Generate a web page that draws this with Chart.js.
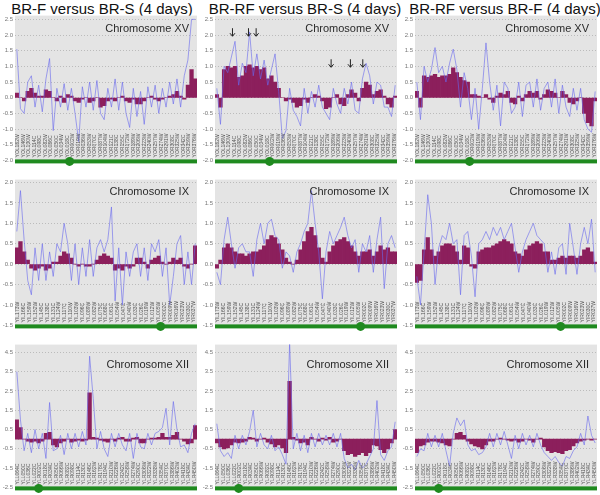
<!DOCTYPE html>
<html lang="en">
<head>
    <meta charset="UTF-8">
    <title>Chromosome XV / IX / XII profiles</title>
    <script src="https://cdn.jsdelivr.net/npm/chart.js"></script>
    <style>
        body {
            margin: 0;
            width: 600px;
            height: 495px;
            position: relative;
            overflow: hidden;
            background: #fff;
            font-family: 'Liberation Sans', Arial, sans-serif;
        }
        .title {
            position: absolute;
            top: 1px;
            width: 200px;
            text-align: center;
            white-space: nowrap;
            font-size: 15px;
            line-height: 16px;
            color: #111;
        }
        canvas { position: absolute; }
    </style>
</head>
<body>
    <div class="title" style="left:2px">BR-F versus BR-S (4 days)</div>
    <div class="title" style="left:205px">BR-RF versus BR-S (4 days)</div>
    <div class="title" style="left:405px">BR-RF versus BR-F (4 days)</div>

    <script>
        // column titles / chromosome names
        const comparisons = ['BR-F versus BR-S (4 days)', 'BR-RF versus BR-S (4 days)', 'BR-RF versus BR-F (4 days)'];
        const chromNames = ['Chromosome XV', 'Chromosome IX', 'Chromosome XII'];

        // y axis ranges and tick values per chromosome row
        const yMin = [-2.0, -1.5, -2.5];
        const yMax = [2.62, 2.07, 4.9];
        const ticksXV = [-2.0, -1.5, -1.0, -0.5, 0.0, 0.5, 1.0, 1.5, 2.0, 2.5];
        const ticksIX = [-1.5, -1.0, -0.5, 0.0, 0.5, 1.0, 1.5, 2.0];
        const ticksXII = [-2.5, -1.5, -0.5, 0.5, 1.5, 2.5, 3.5, 4.5];

        // centromere, as fraction of chromosome length
        const centromere = [0.30, 0.80, 0.13];

        // ORF labels along each chromosome
        const genesXV = ['YOL162W','YOL146W','YOL130W','YOL114C','YOL098C','YOL082W','YOL066C','YOL050C','YOL034W','YOL018C',
            'YOR002W','YOR019W','YOR036W','YOR053W','YOR070C','YOR087W','YOR104W','YOR121C','YOR138C','YOR155C','YOR172W',
            'YOR189W','YOR206W','YOR223W','YOR240W','YOR257W','YOR274W','YOR291W','YOR308C','YOR325W','YOR342C','YOR359W','YOR376W'];
        const genesIX = ['YIL173W','YIL166C','YIL159W','YIL152W','YIL145C','YIL138C','YIL131C','YIL124W','YIL117C','YIL110W',
            'YIL103W','YIL096C','YIL089W','YIL082W','YIL075C','YIL068C','YIL061C','YIL054W','YIL047C','YIL040W','YIL033C',
            'YIL026C','YIL019W','YIL012W','YIL005W','YIR002C','YIR009W','YIR016W','YIR023W','YIR030C','YIR037W'];
        const genesXII = ['YLL064C','YLL050C','YLL036C','YLL022C','YLR002C','YLR018C','YLR034C','YLR050C','YLR066W','YLR082C',
            'YLR098C','YLR114C','YLR130C','YLR146C','YLR162W','YLR178C','YLR194C','YLR210W','YLR226W','YLR242C','YLR258W',
            'YLR274W','YLR290C','YLR306W','YLR322W','YLR338W','YLR354C','YLR370C','YLR386W','YLR402W','YLR418C','YLR434C','YLR450W'];

        // log2 ratios: moving average (bars) and raw probe values (line)
        const xvFS_avg = [0.15,0.0,-0.1,0.2,0.3,0.15,0.05,0.05,0.25,0.2, 0.0,-0.1,0.05,-0.15,0.1,0.05,-0.1,-0.15,-0.05,0.0,
            -0.15,-0.1,0.0,-0.3,-0.25,-0.1,-0.05,-0.1,0.0,0.05, -0.1,-0.15,-0.05,-0.2,-0.2,-0.1,0.0,0.05,-0.05,-0.1,
            -0.05,0.0,0.05,0.1,0.2,0.05,-0.05,0.4,0.9,0.6];
        const xvFS_raw = [1.55,-0.35,-0.5,0.5,0.7,-0.3,0.4,-0.45,0.6,1.25, -1.05,0.3,-0.3,0.45,-0.4,0.3,-0.5,-1.4,0.35,-0.3,
            0.5,-0.4,0.55,-0.5,-0.7,0.3,-0.3,0.6,-0.4,0.5, -0.5,-0.95,0.3,-0.6,0.2,-0.85,0.35,-0.3,0.4,-0.5,
            0.3,-0.3,0.5,-0.2,0.6,-0.3,0.7,1.2,2.5,2.5];
        const xvRFS_avg = [0.1,-0.3,0.9,1.0,0.95,1.0,0.65,0.7,1.0,1.05, 0.95,1.0,0.9,0.95,0.6,0.7,0.5,0.3,0.0,-0.1,
            -0.05,-0.15,-0.3,-0.25,-0.05,-0.15,0.0,0.1,0.05,-0.1, -0.35,-0.3,0.0,0.1,-0.2,-0.25,0.1,0.25,0.15,-0.1,
            0.3,0.5,0.4,0.1,0.2,0.25,0.05,-0.2,-0.3,0.05];
        const xvRFS_raw = [0.3,-0.85,1.0,0.8,1.3,1.8,0.4,1.1,0.8,2.1, 0.7,1.4,0.6,1.2,0.4,0.9,1.4,0.2,-1.3,-1.05,
            0.3,-0.4,-0.6,-0.9,0.3,-0.5,0.2,-0.3,0.4,-0.3, -0.5,-0.7,0.3,-0.2,-0.5,0.3,-0.2,0.5,-0.4,-0.5,
            0.6,1.1,0.7,-0.2,0.5,0.4,-0.3,-0.3,-0.6,0.4];
        const xvRFF_avg = [0.2,-0.3,0.7,0.65,0.7,0.75,0.65,0.7,0.7,0.75, 0.95,0.8,0.65,0.55,0.5,0.1,0.1,0.05,0.0,0.1,
            -0.05,-0.15,0.05,0.15,0.1,0.2,-0.15,-0.2,0.05,-0.1, 0.1,0.2,0.15,0.2,-0.05,0.1,0.25,0.2,0.15,0.0,
            0.2,0.1,-0.15,-0.2,-0.1,0.0,-0.5,-0.8,-0.9,-0.1];
        const xvRFF_raw = [0.5,-0.7,1.0,0.5,0.9,1.6,0.8,1.0,0.5,1.1, 1.55,0.9,-0.3,0.8,0.3,-0.7,0.3,-1.0,0.3,1.75,
            0.5,-0.4,0.4,-0.9,0.5,0.3,-0.5,-0.3,0.5,-0.6, 0.4,0.5,-0.3,0.6,-0.4,0.3,0.5,-0.3,0.6,-0.5,
            0.4,-0.3,-0.6,0.3,-0.4,0.3,-0.7,-1.0,-1.1,0.2];

        const ixFS_avg = [0.4,0.55,0.3,0.1,-0.1,-0.15,-0.1,-0.05,-0.15,-0.1, 0.05,0.05,0.2,0.3,0.25,0.15,0.0,-0.05,0.0,-0.05,
            -0.05,0.0,0.1,0.2,0.25,0.2,0.15,-0.15,-0.1,-0.15, -0.05,-0.1,-0.05,0.15,0.15,0.05,-0.1,0.1,0.15,0.2,
            0.05,0.0,0.05,0.15,0.1,0.15,-0.05,-0.1,0.0,0.45];
        const ixFS_raw = [0.8,1.8,0.6,-0.4,-0.75,0.4,-0.4,0.5,-0.4,0.3, -0.3,0.5,0.3,1.0,0.5,-0.4,0.5,-0.5,0.4,-0.3,
            0.6,-0.3,0.4,0.6,0.3,0.6,1.4,-0.9,0.4,-1.0, 0.3,-0.3,0.3,0.5,-0.3,0.4,-0.4,0.5,0.3,0.6,
            -0.3,0.4,-1.0,-0.3,0.5,0.7,-0.5,0.3,-0.5,0.5];
        const ixRFS_avg = [-0.1,0.1,0.4,0.5,0.4,0.3,0.25,0.25,0.2,0.25, 0.3,0.3,0.35,0.45,0.6,0.7,0.65,0.5,0.35,0.15,
            0.05,0.0,0.1,0.35,0.55,0.8,0.9,0.7,0.4,0.15, 0.05,0.3,0.45,0.55,0.6,0.65,0.55,0.45,0.3,0.2,
            0.3,0.3,0.35,0.2,0.3,0.45,0.35,0.4,0.3,0.3];
        const ixRFS_raw = [-0.2,-0.5,0.6,1.15,0.5,-0.1,0.4,0.5,0.3,0.3, -0.3,0.6,1.0,0.5,1.0,1.1,0.7,0.6,-0.1,0.3,
            0.2,-0.2,0.3,0.5,0.8,1.0,1.8,1.0,0.3,-0.85, 0.3,0.8,0.5,0.7,0.9,1.15,0.7,0.4,0.6,-0.2,
            0.5,0.3,0.7,-0.2,0.6,1.15,-0.6,0.5,0.7,0.4];
        const ixRFF_avg = [-0.45,-0.4,0.35,0.65,0.35,0.2,0.3,0.45,0.5,0.5, 0.45,0.3,0.1,0.45,0.4,-0.05,-0.1,0.3,0.35,0.4,
            0.4,0.45,0.5,0.55,0.6,0.55,0.5,0.3,0.25,0.2, 0.35,0.45,0.5,0.55,0.5,0.3,0.3,0.1,0.1,0.15,
            0.2,0.15,0.2,0.2,0.15,0.2,0.35,0.4,0.3,0.05];
        const ixRFF_raw = [-0.3,-1.0,0.3,1.7,1.0,-0.5,0.4,0.7,0.6,1.0, 0.5,0.6,-0.75,0.7,0.8,0.2,-0.8,0.5,0.6,0.8,
            0.6,0.9,0.7,0.9,0.6,0.8,1.0,0.4,-0.2,0.3, 0.6,0.8,1.0,0.7,0.6,0.5,-0.2,0.3,-0.25,0.4,
            0.5,-0.25,1.0,0.4,-0.25,0.5,0.9,0.5,1.1,-0.2];

        const xiiFS_avg = [1.0,0.6,0.0,-0.1,-0.15,-0.1,-0.2,-0.1,0.3,0.35, -0.3,-0.4,-0.2,-0.1,0.0,-0.15,-0.1,-0.05,-0.1,-0.05,
            2.4,0.1,0.05,-0.05,-0.1,-0.15,0.0,-0.1,0.05,0.1, -0.1,-0.1,0.05,0.1,-0.2,-0.2,0.0,0.05,0.05,0.1,
            0.3,0.1,0.1,0.2,0.35,0.0,-0.1,-0.25,-0.2,0.7];
        const xiiFS_raw = [3.5,1.0,-0.6,0.3,-0.7,0.5,-0.5,0.3,-1.0,1.9, -0.6,-0.5,0.2,-0.8,0.3,-0.5,0.3,-0.4,0.4,-0.3,
            4.3,2.1,-0.5,0.4,-0.5,-0.9,0.3,-0.4,0.3,-0.3, -0.6,0.3,-1.0,0.3,-0.4,-0.5,0.3,-0.3,0.3,0.4,
            0.6,1.6,-0.3,1.95,0.5,-0.4,-0.3,-0.7,0.3,0.8];
        const xiiRFS_avg = [-0.2,-0.4,-0.5,-0.45,-0.3,-0.15,-0.2,-0.15,-0.1,0.1, 0.05,-0.1,0.0,0.05,-0.15,-0.25,-0.4,-0.3,-0.45,-0.7,
            3.0,0.1,-0.05,-0.2,-0.15,-0.3,0.1,0.0,-0.1,0.05, -0.05,0.1,-0.15,-0.1,0.0,-0.6,-0.8,-0.75,-0.9,-0.8,
            -0.7,-0.85,-0.7,-0.3,-0.35,-0.55,-0.7,-0.5,-0.2,0.5];
        const xiiRFS_raw = [0.8,-0.6,-0.9,-0.7,-1.0,0.2,-0.5,0.2,-0.3,0.4, 1.5,-0.4,0.3,-0.3,-0.5,0.2,-0.6,-0.4,-0.8,-1.3,
            5.0,-0.5,0.3,-0.6,0.2,-0.7,0.3,-0.4,0.3,-0.3, 0.2,-0.3,0.3,-0.4,0.3,-1.0,-1.5,-1.3,-1.6,-1.1,
            -1.5,-1.3,-0.9,-0.5,2.0,-0.8,-1.1,-0.6,-0.4,0.9];
        const xiiRFF_avg = [-0.7,-0.35,-0.3,-0.15,-0.1,-0.1,-0.15,-0.2,-0.3,-0.35, 0.0,0.3,0.35,0.2,-0.1,-0.25,-0.35,-0.4,-0.5,-0.3,
            -0.1,-0.1,0.0,0.05,0.0,-0.05,-0.1,-0.05,-0.15,-0.1, 0.0,-0.05,-0.15,0.0,0.05,-0.4,-0.6,-0.7,-0.65,-0.7,
            -0.75,-0.6,-0.55,-0.35,-0.2,-0.1,-0.05,0.0,-0.05,0.0];
        const xiiRFF_raw = [-0.9,-0.5,-0.6,0.3,-0.4,0.2,-0.4,0.3,-0.6,-1.4, 0.3,1.1,0.7,1.0,-0.3,-0.6,-0.5,-0.8,-0.7,-0.4,
            0.3,-0.4,0.3,-0.3,0.4,-0.3,-1.0,0.2,-0.5,0.3, -0.3,0.2,-0.4,0.3,-0.3,-0.7,-0.9,-1.1,-0.9,-1.2,
            -1.4,-0.9,-1.0,-0.6,-0.4,0.3,-0.3,1.2,0.2,-0.2];

        // arrows marking regions in BR-RF vs BR-S, chr XV: [probe index, log2 value]
        const arrowsRFS_XV = [[4.3, 2.09], [8.7, 2.09], [10.8, 2.09], [31.4, 1.1], [36.7, 1.1], [40.1, 1.1]];

        const rowTicks = [ticksXV, ticksIX, ticksXII];
        const rowGenes = [genesXV, genesIX, genesXII];
        const rowTop = [10, 174, 339];
        const rowHeight = [156, 157, 154];
        const nameOffset = [13, 12, 20];

        const panels = [
            { row: 0, col: 0, avg: xvFS_avg, raw: xvFS_raw },
            { row: 0, col: 1, avg: xvRFS_avg, raw: xvRFS_raw, arrows: arrowsRFS_XV },
            { row: 0, col: 2, avg: xvRFF_avg, raw: xvRFF_raw },
            { row: 1, col: 0, avg: ixFS_avg, raw: ixFS_raw },
            { row: 1, col: 1, avg: ixRFS_avg, raw: ixRFS_raw },
            { row: 1, col: 2, avg: ixRFF_avg, raw: ixRFF_raw },
            { row: 2, col: 0, avg: xiiFS_avg, raw: xiiFS_raw },
            { row: 2, col: 1, avg: xiiRFS_avg, raw: xiiRFS_raw },
            { row: 2, col: 2, avg: xiiRFF_avg, raw: xiiRFF_raw }
        ];

        // grey plot area, gene names, chromosome label, centromere bar
        function decorations(p) {
            return {
                id: 'decorations',
                beforeDraw(chart) {
                    const { ctx, chartArea: a } = chart;
                    ctx.save();
                    ctx.fillStyle = '#e4e4e4';
                    ctx.fillRect(a.left, a.top, a.right - a.left, a.bottom - a.top);
                    ctx.restore();
                },
                afterDatasetsDraw(chart) {
                    const { ctx, chartArea: a } = chart;
                    const genes = rowGenes[p.row];
                    const step = (a.right - a.left) / genes.length;
                    ctx.save();
                    ctx.fillStyle = '#555';
                    ctx.font = '5px "Liberation Sans"';
                    ctx.textAlign = 'left';
                    ctx.textBaseline = 'middle';
                    genes.forEach((g, k) => {
                        ctx.save();
                        ctx.translate(a.left + (k + 0.5) * step, a.bottom - 3);
                        ctx.rotate(-Math.PI / 2);
                        ctx.fillText(g, 0, 0);
                        ctx.restore();
                    });
                    ctx.fillStyle = '#2a2a2a';
                    ctx.font = '11px "Liberation Sans"';
                    ctx.textAlign = 'right';
                    ctx.fillText(chromNames[p.row], a.right - 8, a.top + nameOffset[p.row]);

                    if (p.arrows) {
                        const xs = chart.scales.x, ys = chart.scales.y;
                        ctx.strokeStyle = '#222';
                        ctx.lineWidth = 1;
                        p.arrows.forEach(([i, v]) => {
                            const x = xs.getPixelForValue(i), y = ys.getPixelForValue(v);
                            ctx.beginPath();
                            ctx.moveTo(x, y - 4); ctx.lineTo(x, y + 4);
                            ctx.moveTo(x - 2.5, y + 1); ctx.lineTo(x, y + 4); ctx.lineTo(x + 2.5, y + 1);
                            ctx.stroke();
                        });
                    }
                    ctx.restore();
                },
                afterDraw(chart) {
                    const { ctx, chartArea: a } = chart;
                    ctx.save();
                    ctx.fillStyle = '#1f8a1f';
                    ctx.fillRect(a.left, a.bottom - 1, a.right - a.left, 4);
                    ctx.beginPath();
                    ctx.arc(a.left + centromere[p.row] * (a.right - a.left), a.bottom + 1, 4.5, 0, Math.PI * 2);
                    ctx.fill();
                    ctx.restore();
                }
            };
        }

        panels.forEach(p => {
            const canvas = document.createElement('canvas');
            canvas.width = 200;
            canvas.height = rowHeight[p.row];
            canvas.style.left = (p.col * 200) + 'px';
            canvas.style.top = rowTop[p.row] + 'px';
            document.body.appendChild(canvas);

            const ticks = rowTicks[p.row];
            new Chart(canvas, {
                type: 'bar',
                data: {
                    labels: p.avg.map((_, i) => i),
                    datasets: [
                        {
                            type: 'line',
                            data: p.raw,
                            borderColor: 'rgba(104, 104, 238, 0.6)',
                            borderWidth: 1,
                            pointRadius: 0,
                            tension: 0,
                            order: 1
                        },
                        {
                            data: p.avg,
                            backgroundColor: '#8c1f5c',
                            borderWidth: 0,
                            barPercentage: 1,
                            categoryPercentage: 1,
                            order: 2
                        }
                    ]
                },
                options: {
                    responsive: false,
                    animation: false,
                    layout: { padding: { top: 4, bottom: 4, left: 0, right: 3 } },
                    plugins: { legend: { display: false }, tooltip: { enabled: false } },
                    scales: {
                        x: { display: false, offset: true },
                        y: {
                            min: yMin[p.row],
                            max: yMax[p.row],
                            afterBuildTicks: s => { s.ticks = ticks.map(v => ({ value: v })); },
                            afterFit: s => { s.width = 15; },
                            ticks: {
                                color: '#777',
                                font: { family: 'Liberation Sans', size: 6 },
                                padding: 2,
                                callback: v => v.toFixed(1)
                            },
                            grid: { color: '#b0b0b0', lineWidth: 0.8, drawTicks: false },
                            border: { display: false, dash: [1, 2] }
                        }
                    }
                },
                plugins: [decorations(p)]
            });
        });
    </script>
</body>
</html>
